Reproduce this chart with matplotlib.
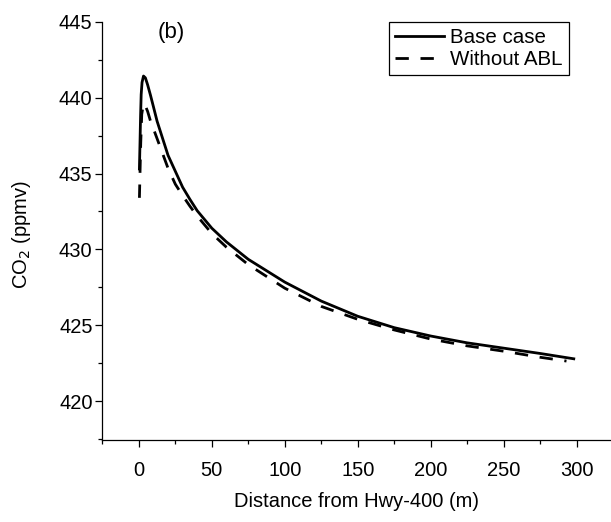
import matplotlib
matplotlib.use('Agg')
from matplotlib import pyplot as plt
from matplotlib.ticker import MultipleLocator

plt.rcParams['font.family'] = ['Liberation Sans', 'DejaVu Sans']

# distance from highway (m) and CO2 (ppmv)
base_x = [0.4, 0.8, 1.2, 1.6, 2.2, 3.2, 4.5, 6, 8, 10, 12.5, 15, 20, 25, 30, 35,
          40, 50, 60, 75, 100, 125, 150, 175, 200, 225, 250, 275, 298]
base_y = [435.3, 437.0, 438.8, 440.2, 441.0, 441.42, 441.3, 440.85, 440.15, 439.4,
          438.45, 437.7, 436.2, 435.15, 434.1, 433.3, 432.55, 431.4, 430.5, 429.35,
          427.85, 426.6, 425.6, 424.85, 424.3, 423.85, 423.5, 423.15, 422.8]

noabl_x = [0.4, 0.8, 1.3, 2.0, 3.2, 4.5, 6, 8, 10, 12.5, 15, 20, 25, 30, 35, 40,
           50, 60, 75, 100, 125, 150, 175, 200, 225, 250, 275, 293]
noabl_y = [433.4, 435.0, 437.0, 438.9, 439.62, 439.45, 439.1, 438.45, 437.95, 437.3,
           436.65, 435.35, 434.3, 433.55, 432.85, 432.2, 431.05, 430.15, 429.0,
           427.45, 426.25, 425.4, 424.7, 424.1, 423.65, 423.3, 422.9, 422.65]

labels = ['Base case', 'Without ABL']

fig = plt.figure(figsize=(6.11, 5.22), dpi=100)
ax = fig.add_axes([0.1675, 0.157, 0.8325, 0.8015])

ax.plot(base_x, base_y, color='black', lw=2, label=labels[0])
ax.plot(noabl_x, noabl_y, color='black', lw=2, dashes=(4.8, 4.2), label=labels[1])

ax.set_xlim(-25, 323.5)
ax.set_ylim(417.45, 445)
ax.xaxis.set_major_locator(MultipleLocator(50))
ax.xaxis.set_minor_locator(MultipleLocator(25))
ax.yaxis.set_major_locator(MultipleLocator(5))
ax.yaxis.set_minor_locator(MultipleLocator(2.5))

for side in ['top', 'right']:
    ax.spines[side].set_visible(False)
for side in ['left', 'bottom']:
    ax.spines[side].set_linewidth(0.9)

ax.tick_params(which='major', direction='out', length=5, width=0.9, labelsize=14.5)
ax.tick_params(which='minor', direction='out', length=3, width=0.9)
ax.tick_params(axis='y', pad=2)
ax.tick_params(axis='x', pad=10)

ax.set_xlabel('Distance from Hwy-400 (m)', fontsize=14.5, labelpad=8.5)
ax.set_ylabel('CO$_2$ (ppmv)', fontsize=14.5)
# rotated label: this x is the right-hand edge of the text
ax.yaxis.set_label_coords(-0.136, 0.49)

ax.text(0.1095, 0.975, '(b)', transform=ax.transAxes, fontsize=16, va='center')

leg = ax.legend(loc='upper right', bbox_to_anchor=(569 / 611, 1 - 22 / 522),
                bbox_transform=fig.transFigure, borderaxespad=0, fancybox=False,
                framealpha=1, edgecolor='black', fontsize=14.8, handlelength=2.4,
                handletextpad=0.3, labelspacing=0.15, borderpad=0.3)
leg.get_frame().set_linewidth(0.9)

fig.savefig('out.png', dpi=100)
